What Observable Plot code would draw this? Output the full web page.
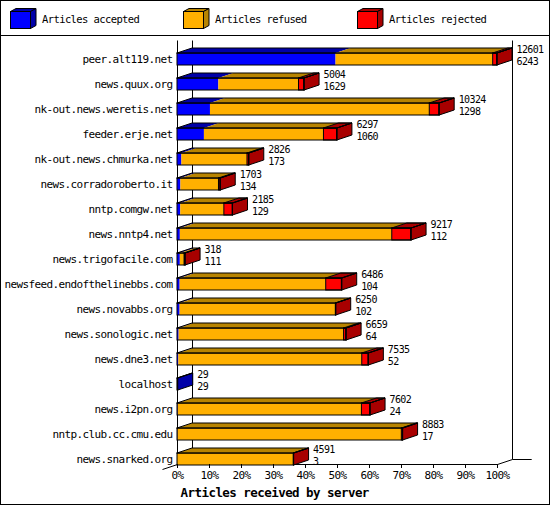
<!DOCTYPE html>
<html><head><meta charset="utf-8">
<script src="https://cdn.jsdelivr.net/npm/d3@7"></script>
<script src="https://cdn.jsdelivr.net/npm/@observablehq/plot@0.6"></script>
<style>
body{margin:0;background:#fff}
#frame{position:relative;width:548px;height:503px;border:1px solid #000;background:#fff;font-family:"DejaVu Sans Mono",monospace;overflow:hidden}
#legend{position:relative;height:34px;border-bottom:1px solid #000}
.item{position:absolute;top:0;height:34px}
.item svg{position:absolute;left:0;top:0}
.item span{position:absolute;left:32px;top:12px;font-size:10.5px;letter-spacing:-0.6px;line-height:13px;white-space:nowrap;color:#000}
#chart svg{display:block}
#chart svg text{letter-spacing:-0.62px}
#chart svg text.title{letter-spacing:-0.55px}
#chart svg text.num{letter-spacing:0}
</style></head>
<body><div id="frame"><div id="legend"></div><div id="chart"></div></div>
<script>
const servers = ["peer.alt119.net","news.quux.org","nk-out.news.weretis.net","feeder.erje.net","nk-out.news.chmurka.net","news.corradoroberto.it","nntp.comgw.net","news.nntp4.net","news.trigofacile.com","newsfeed.endofthelinebbs.com","news.novabbs.org","news.sonologic.net","news.dne3.net","localhost","news.i2pn.org","nntp.club.cc.cmu.edu","news.snarked.org"];
const offered  = [12601,5004,10324,6297,2826,1703,2185,9217,318,6486,6250,6659,7535,29,7602,8883,4591];
const accepted = [6243,1629,1298,1060,173,134,129,112,111,104,102,64,52,29,24,17,3];
const refused  = [6188,3155,8636,4707,2583,1499,1716,8345,167,5752,6138,6495,7223,0,7238,8816,4583];
const rejected = [170,220,390,530,70,70,340,760,40,630,10,100,260,0,340,50,5];
const seriesNames  = ["Articles accepted","Articles refused","Articles rejected"];
const seriesColors = ["#0000ff","#ffb000","#ff0000"];
const seriesShades = ["#0000a8","#b88400","#a80000"];
const xTicks = [0,10,20,30,40,50,60,70,80,90,100];
const xTitle = "Articles received by server";

// legend
const legendX = [9, 182, 356];
const legend = d3.select("#legend");
seriesNames.forEach((name, k) => {
  const it = legend.append("div").attr("class","item").style("left", legendX[k] + "px");
  const s = it.append("svg").attr("width", 30).attr("height", 34);
  s.append("polygon").attr("points","0.5,10.5 6,7.5 26,7.5 20.5,10.5").attr("fill", seriesShades[k]).attr("stroke","#000");
  s.append("polygon").attr("points","20.5,10.5 26,7.5 26,24.5 20.5,27.5").attr("fill", seriesShades[k]).attr("stroke","#000");
  s.append("rect").attr("x",0.5).attr("y",10.5).attr("width",20).attr("height",17).attr("fill", seriesColors[k]).attr("stroke","#000");
  it.append("span").text(name);
});

// geometry in data units
const n = servers.length;
const maxTotal = d3.max(offered);
const pct = v => v / maxTotal * 100;
const DX = 15 / 320 * 100;   // depth along x (percent units)
const DY = 0.2;              // depth along y (row units)
const H = 0.24;              // half bar height (row units)

const segs = [];
const lastSeg = [];
servers.forEach((s, i) => {
  const vals = [accepted[i], refused[i], rejected[i]];
  let cum = 0, last = null;
  vals.forEach((v, k) => {
    if (v > 0) { last = {row: i, k, x0: pct(cum), x1: pct(cum + v), key: i + "-" + k}; segs.push(last); }
    cum += v;
  });
  lastSeg.push(last);
});
const bars = servers.map((s, i) => ({row: i, x0: 0, x1: pct(accepted[i] + refused[i] + rejected[i]), total: offered[i], acc: accepted[i], key: "b" + i}));

const topPts = arr => arr.flatMap(d => [
  {key: d.key, y: d.row - H, a: d.x0, b: d.x1},
  {key: d.key, y: d.row - H - DY, a: d.x0 + DX, b: d.x1 + DX}
]);
const sidePts = arr => arr.flatMap(d => [
  {key: d.key, k: d.k, x: d.x1, y1: d.row - H, y2: d.row + H},
  {key: d.key, k: d.k, x: d.x1 + DX, y1: d.row - H - DY, y2: d.row + H - DY}
]);

const floorY = n - 1 + DY;
const yTop = -0.76;
const marks = [];
// frame
marks.push(Plot.link([{x1: DX, y1: yTop, x2: DX, y2: n - 1}], {x1:"x1", y1:"y1", x2:"x2", y2:"y2", stroke:"#000"}));
marks.push(Plot.link([{x1: 100 + DX, y1: yTop, x2: 100 + DX, y2: n - 1}], {x1:"x1", y1:"y1", x2:"x2", y2:"y2", stroke:"#000"}));
marks.push(Plot.link([
  {x1: 0, y1: yTop, x2: 0, y2: floorY},
  {x1: 0, y1: floorY, x2: 100, y2: floorY},
  {x1: 100, y1: floorY, x2: 100 + DX, y2: n - 1},
  {x1: 100 + DX, y1: n - 1, x2: 100 + DX + 6, y2: n - 1},
  {x1: 0, y1: floorY, x2: -DX, y2: floorY + DY}
], {x1:"x1", y1:"y1", x2:"x2", y2:"y2", stroke:"#000"}));

// fills
seriesNames.forEach((name, k) => {
  const sk = segs.filter(d => d.k === k);
  marks.push(Plot.rect(sk, {x1: "x0", x2: "x1", y1: d => d.row - H, y2: d => d.row + H, fill: seriesColors[k]}));
  marks.push(Plot.areaX(topPts(sk), {y: "y", x1: "a", x2: "b", z: "key", fill: seriesShades[k]}));
  const lk = lastSeg.filter(d => d && d.k === k);
  marks.push(Plot.areaY(sidePts(lk), {x: "x", y1: "y1", y2: "y2", z: "key", fill: seriesShades[k], stroke: "#000"}));
});
// outlines
const rej = segs.filter(d => d.k === 2);
marks.push(Plot.rect(rej, {x1: "x0", x2: "x1", y1: d => d.row - H, y2: d => d.row + H, fill: "none", stroke: "#000"}));
marks.push(Plot.areaX(topPts(rej), {y: "y", x1: "a", x2: "b", z: "key", fill: "none", stroke: "#000"}));
marks.push(Plot.rect(bars, {x1: "x0", x2: "x1", y1: d => d.row - H, y2: d => d.row + H, fill: "none", stroke: "#000"}));
marks.push(Plot.areaX(topPts(bars), {y: "y", x1: "a", x2: "b", z: "key", fill: "none", stroke: "#000"}));

// value labels
marks.push(Plot.text(bars, {x: d => d.x1 + DX, y: "row", text: d => String(d.total), dx: 4, dy: -9.5, fontSize: 10, textAnchor: "start", fill: "#000", className: "num"}));
marks.push(Plot.text(bars, {x: d => d.x1 + DX, y: "row", text: d => String(d.acc), dx: 4, dy: 2.5, fontSize: 10, textAnchor: "start", fill: "#000", className: "num"}));

// axes
marks.push(Plot.axisY({ticks: d3.range(n), tickFormat: i => servers[i], tickSize: 0, tickPadding: 5, label: null, fill: "#000"}));
marks.push(Plot.axisX({ticks: xTicks, tickFormat: d => d + "%", tickSize: 4, tickPadding: 3, label: null, fill: "#000", stroke: "#000"}));
marks.push(Plot.text([xTitle], {frameAnchor: "bottom-left", dx: 3, dy: 28, lineAnchor: "middle", textAnchor: "start", fontWeight: "bold", fontSize: 12.5, fill: "#000"}));

const chart = Plot.plot({
  width: 548,
  height: 468,
  marginLeft: 176,
  marginRight: 52,
  marginTop: 4,
  marginBottom: 40,
  x: {domain: [0, 100]},
  y: {domain: [yTop, floorY], range: [4, 428]},
  style: {fontFamily: "DejaVu Sans Mono", fontSize: "11px", background: "white", color: "#000", overflow: "visible"},
  marks
});
chart.querySelectorAll("text").forEach(t => { if (t.textContent === xTitle) t.setAttribute("class", "title"); });
document.getElementById("chart").appendChild(chart);
</script>
</body></html>
